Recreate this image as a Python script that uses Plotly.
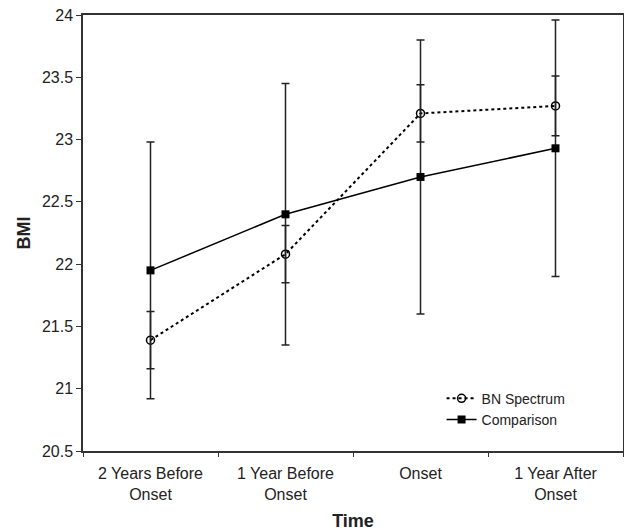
import plotly.graph_objects as go

categories = ["2 Years Before<br>Onset", "1 Year Before<br>Onset", "Onset", "1 Year After<br>Onset"]
bn_values = [21.39, 22.08, 23.21, 23.27]
bn_err = [0.23, 0.23, 0.23, 0.24]
comp_values = [21.95, 22.40, 22.70, 22.93]
comp_err = [1.03, 1.05, 1.10, 1.03]
y_ticks = [20.5, 21, 21.5, 22, 22.5, 23, 23.5, 24]

fig = go.Figure()
fig.add_trace(go.Scatter(
    x=categories, y=bn_values, name="BN Spectrum", mode="lines+markers",
    line=dict(color="black", width=2, dash="dot"),
    marker=dict(symbol="circle-open", size=8, color="black", line=dict(width=1.5)),
    error_y=dict(type="data", array=bn_err, visible=True, color="#222", thickness=1.5, width=4),
))
fig.add_trace(go.Scatter(
    x=categories, y=comp_values, name="Comparison", mode="lines+markers",
    line=dict(color="black", width=1.5),
    marker=dict(symbol="square", size=8, color="black"),
    error_y=dict(type="data", array=comp_err, visible=True, color="#222", thickness=1.5, width=4),
))

fig.update_layout(
    width=624, height=532,
    margin=dict(l=83, r=1, t=15, b=81),
    plot_bgcolor="white", paper_bgcolor="white",
    font=dict(family="Liberation Sans, Arial, sans-serif", size=15, color="#222"),
    showlegend=True,
    legend=dict(x=0.664, y=0.035, xanchor="left", yanchor="bottom",
                bgcolor="rgba(0,0,0,0)", font=dict(size=14), tracegroupgap=0),
)
fig.update_xaxes(
    type="category", range=[-0.5, 3.5], automargin=False,
    showgrid=False, showline=True, linecolor="#333", linewidth=1.5,
    mirror=True, ticks="outside", tickson="boundaries", ticklen=4, tickcolor="#333",
    tickfont=dict(size=16), ticklabelstandoff=7,
    title=dict(text="<b>Time</b>", font=dict(size=18), standoff=13),
)
fig.update_yaxes(
    range=[20.5, 24], tickvals=y_ticks, ticktext=[f"{v:g}" for v in y_ticks],
    automargin=False,
    showgrid=False, zeroline=False, showline=True, linecolor="#333", linewidth=1.5,
    mirror=True, ticks="outside", ticklen=5, tickcolor="#333",
    tickfont=dict(size=16),
    title=dict(text="<b>BMI</b>", font=dict(size=18), standoff=7),
)

fig.write_html("out.html", config={"displayModeBar": False},
               post_script="document.body.style.margin='0';")
